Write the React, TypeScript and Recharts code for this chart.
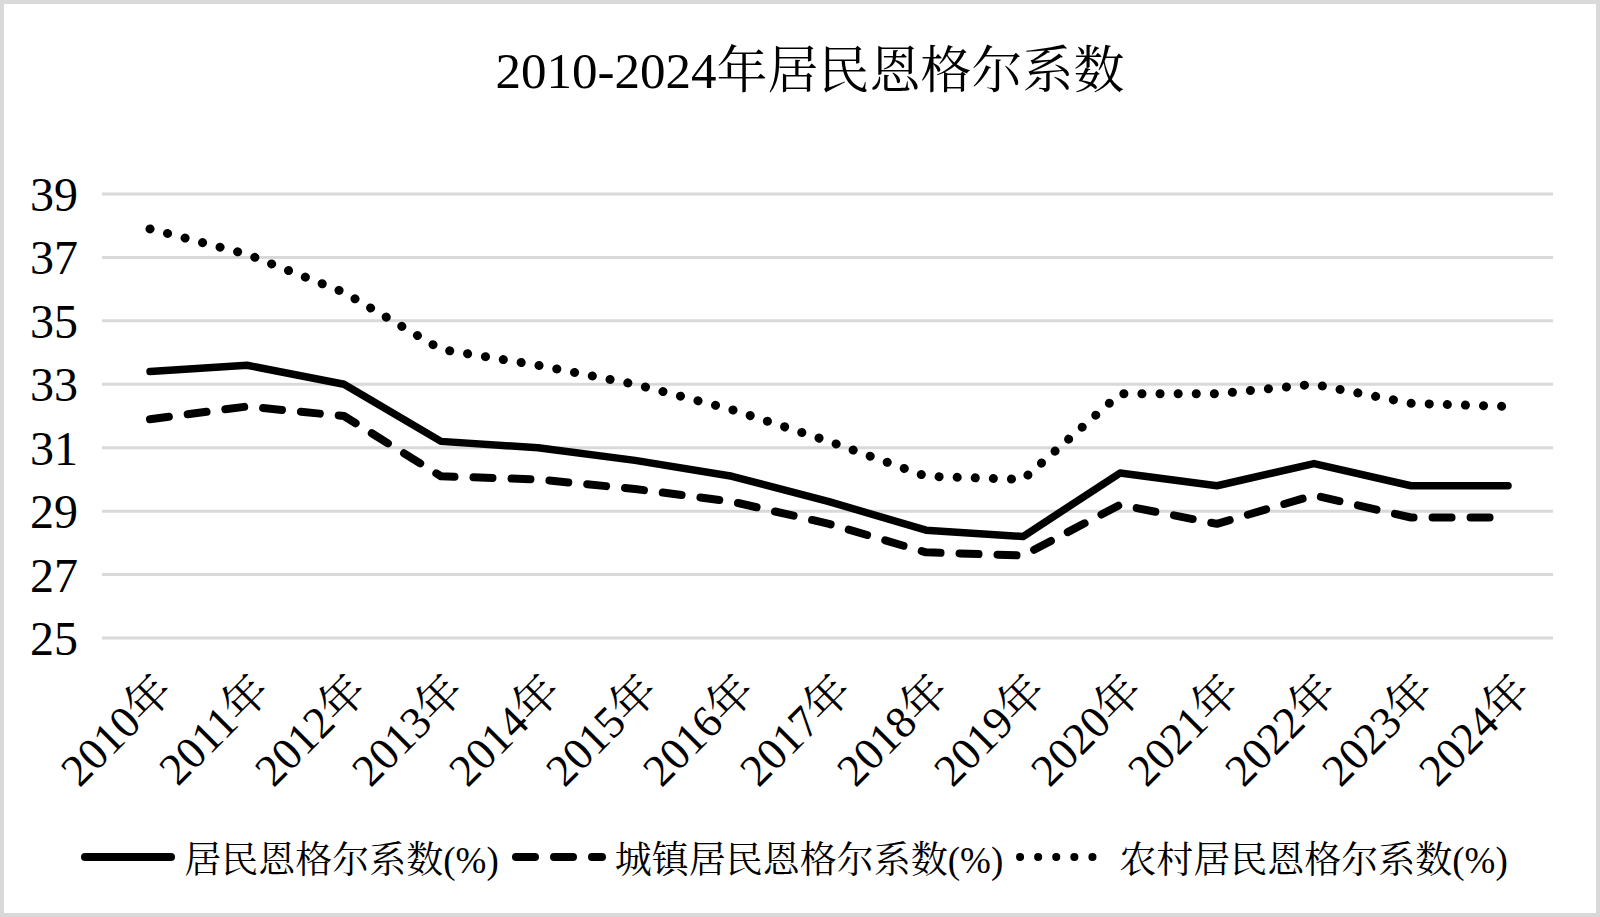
import React from "react";
import { LineChart, Line, XAxis, YAxis, CartesianGrid, Legend } from "recharts";

const years = [
    "2010年", "2011年", "2012年", "2013年", "2014年", "2015年", "2016年", "2017年",
    "2018年", "2019年", "2020年", "2021年", "2022年", "2023年", "2024年",
];
const overall = [33.4, 33.6, 33.0, 31.2, 31.0, 30.6, 30.1, 29.3, 28.4, 28.2, 30.2, 29.8, 30.5, 29.8, 29.8];
const urban = [31.9, 32.3, 32.0, 30.1, 30.0, 29.7, 29.3, 28.6, 27.7, 27.6, 29.2, 28.6, 29.5, 28.8, 28.8];
const rural = [37.9, 37.1, 35.9, 34.1, 33.6, 33.0, 32.2, 31.2, 30.1, 30.0, 32.7, 32.7, 33.0, 32.4, 32.3];
const yTicks = [25, 27, 29, 31, 33, 35, 37, 39];

const seriesNames: Record<string, string> = {
    overall: "居民恩格尔系数(%)",
    urban: "城镇居民恩格尔系数(%)",
    rural: "农村居民恩格尔系数(%)",
};

const dashes: Record<string, string | undefined> = {
    overall: undefined,
    urban: "19 19",
    rural: "0.1 18",
};

const widths: Record<string, number> = {
    overall: 7.5,
    urban: 8,
    rural: 9,
};

const data = years.map((year, i) => ({
    year,
    overall: overall[i],
    urban: urban[i],
    rural: rural[i],
}));

const FONT = "'Liberation Serif', 'Times New Roman', 'Noto Serif CJK SC', 'Noto Sans CJK SC', serif";

function YearTick({ x, y, payload }: any) {
    const tx = x + 25;
    const ty = y + 47;
    return (
        <text
            x={tx}
            y={ty}
            transform={`rotate(-45, ${tx}, ${ty})`}
            textAnchor="end"
            fontFamily={FONT}
            fontSize={45}
            fill="#000"
        >
            {payload.value}
        </text>
    );
}

function LegendContent() {
    const keys = ["overall", "urban", "rural"];
    return (
        <div
            style={{
                display: "flex",
                justifyContent: "center",
                alignItems: "center",
                fontFamily: FONT,
                fontSize: 37,
                color: "#000",
                whiteSpace: "nowrap",
                paddingRight: 12,
            }}
        >
            {keys.map((k) => (
                <div key={k} style={{ display: "flex", alignItems: "center", margin: "0 6px" }}>
                    <svg width={96} height={14}>
                        <line
                            x1={5}
                            y1={7}
                            x2={91}
                            y2={7}
                            stroke="#000"
                            strokeWidth={8}
                            strokeLinecap="round"
                            strokeDasharray={dashes[k]}
                        />
                    </svg>
                    <span style={{ marginLeft: 8 }}>{seriesNames[k]}</span>
                </div>
            ))}
        </div>
    );
}

export default function App() {
    return (
        <div style={{ position: "absolute", left: 0, top: 0, width: 1600, height: 917, background: "#fff" }}>
            <div
                style={{
                    position: "absolute",
                    left: 10,
                    top: 38,
                    width: 1600,
                    textAlign: "center",
                    fontFamily: FONT,
                    fontSize: 51,
                    lineHeight: "66px",
                    color: "#000",
                }}
            >
                2010-2024年居民恩格尔系数
            </div>
            <LineChart
                width={1600}
                height={917}
                data={data}
                margin={{ top: 194, right: 47, bottom: 129, left: 0 }}
            >
                <CartesianGrid vertical={false} stroke="#d9d9d9" strokeWidth={3} />
                <XAxis
                    dataKey="year"
                    axisLine={false}
                    tickLine={false}
                    interval={0}
                    height={150}
                    padding={{ left: 48, right: 45 }}
                    tick={<YearTick />}
                />
                <YAxis
                    domain={[25, 39]}
                    ticks={yTicks}
                    width={102}
                    axisLine={false}
                    tickLine={false}
                    tickSize={0}
                    tickMargin={24}
                    tick={{ fontFamily: FONT, fontSize: 48, fill: "#000" }}
                />
                <Legend
                    verticalAlign="middle"
                    align="center"
                    layout="horizontal"
                    wrapperStyle={{ top: 830, left: 0, width: 1600 }}
                    content={<LegendContent />}
                />
                {(["overall", "urban", "rural"] as const).map((k) => (
                    <Line
                        key={k}
                        type="linear"
                        dataKey={k}
                        name={seriesNames[k]}
                        stroke="#000"
                        strokeWidth={widths[k]}
                        strokeDasharray={dashes[k]}
                        strokeLinecap="round"
                        strokeLinejoin="round"
                        dot={false}
                        activeDot={false}
                        isAnimationActive={false}
                    />
                ))}
            </LineChart>
            <div
                style={{
                    position: "absolute",
                    left: 0,
                    top: 0,
                    width: 1600,
                    height: 917,
                    boxSizing: "border-box",
                    border: "4px solid #d9d9d9",
                    pointerEvents: "none",
                }}
            />
        </div>
    );
}
